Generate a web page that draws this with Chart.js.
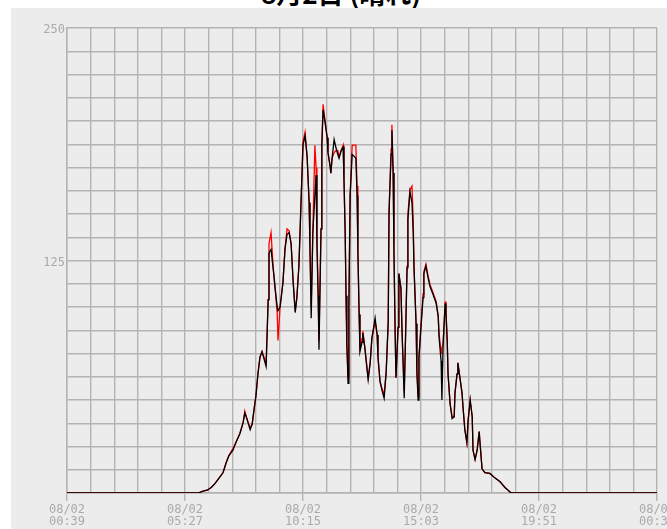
<!DOCTYPE html>
<html><head><meta charset="utf-8">
<script src="https://cdn.jsdelivr.net/npm/chart.js@4/dist/chart.umd.min.js"></script>
<style>
html,body{margin:0;padding:0;background:#fff;width:667px;height:529px;overflow:hidden;position:relative}
#title{position:absolute;left:11px;width:660px;top:-20px;text-align:center;font:bold 26px/26px "Noto Sans CJK JP";color:#000;white-space:nowrap}
#c{position:absolute;left:11px;top:8px;background:#ececec}
</style></head><body>
<div id="title">8月2日 (晴れ)</div>
<canvas id="c" width="656" height="521"></canvas>
<script>
const times = ["00:39","05:59","06:11","06:21","06:31","06:40","06:50","07:00","07:07","07:14","07:24","07:31","07:41","07:49","07:53","07:58","08:06","08:11","08:15","08:20","08:25","08:30","08:35","08:40","08:45","08:50","08:52","08:57","09:02","09:07","09:12","09:14","09:19","09:26","09:31","09:36","09:41","09:46","09:51","09:56","10:00","10:05","10:10","10:15","10:20","10:25","10:30","10:32","10:35","10:39","10:44","10:47","10:49","10:52","10:54","10:59","11:01","11:04","11:09","11:14","11:16","11:21","11:23","11:26","11:31","11:35","11:40","11:43","11:48","11:53","11:55","11:58","12:00","12:02","12:05","12:07","12:10","12:15","12:20","12:24","12:27","12:29","12:32","12:34","12:39","12:41","12:46","12:51","12:54","12:59","13:03","13:11","13:16","13:18","13:23","13:28","13:33","13:38","13:43","13:45","13:50","13:52","13:55","13:57","14:00","14:02","14:07","14:09","14:14","14:17","14:22","14:26","14:29","14:31","14:36","14:41","14:44","14:46","14:51","14:53","14:56","14:58","15:03","15:08","15:10","15:15","15:20","15:25","15:32","15:40","15:45","15:47","15:52","15:54","15:57","16:02","16:04","16:07","16:09","16:14","16:19","16:24","16:26","16:31","16:33","16:38","16:43","16:46","16:50","16:55","16:58","17:03","17:08","17:10","17:15","17:20","17:25","17:27","17:32","17:39","17:51","18:04","18:16","18:28","18:43","00:39"];
const black = [0,0,1,1.5,3,5,8,11,16,20,23,27,32,38,43,40,34,37,44,52,64,73,76,72,68,104,129,131,121,110,100,98,100,113,131,139,140,134,113,97,105,122,155,187,192,181,156,132,94,140,160,171,133,106,77,142,187,206,199,191,183,176,172,180,190,186,182,180,184,186,169,139,106,80,59,100,160,182,181,180,160,130,96,76,81,86,78,67,61,70,83,94,85,73,60,55,51,65,92,151,182,195,172,130,85,62,89,118,110,85,51,91,121,147,162,156,140,121,91,64,50,73,89,105,118,122,116,111,107,102,95,84,71,50,80,102,97,82,64,48,40,41,54,64,70,62,54,45,34,27,39,50,41,23,18,23,33,27,13,11,10.5,8,6,3,0,0];
const red = [0,0,1,1.5,3,5,8,11,16,20,24,27,32,38,44,40,35,37,44,52,64,73,76,73,70,104,134,140,122,110,97,82,100,113,131,142,141,134,114,98,105,122,155,189,194,181,156,132,100,140,187,175,140,106,82,142,187,209,200,191,183,176,172,180,183,184,184,181,184,187,169,139,106,80,62,100,160,187,187,187,165,130,96,78,83,87,78,68,62,70,83,92,85,73,60,56,53,65,92,151,185,198,172,130,85,62,89,118,110,85,55,91,122,150,163,165,147,121,91,67,52,73,91,107,119,123,117,112,108,103,95,86,75,78,80,103,97,82,64,48,41,41,54,64,70,62,54,45,34,27,39,50,41,23,18,23,33,27,13,11,10.5,8,6,3,0,0];
const tickDates = ["08/02","08/02","08/02","08/02","08/02","08/03"];
const tickTimes = ["00:39","05:27","10:15","15:03","19:51","00:39"];
const yLabels = [125, 250];

function toMinutes(list){
  let prev = -1; const out = [];
  for (const s of list){
    const [h,m] = s.split(':').map(Number);
    let v = h*60 + m - 39;
    if (v < 0) v += 1440;
    while (v <= prev) v += 1440;
    out.push(v); prev = v;
  }
  return out;
}
const xs = toMinutes(times);
const pts = arr => arr.map((v,i)=>({x:xs[i], y:v}));
const gridCol = '#b3b3b3';
const tickFont = {family:'DejaVu Sans Mono', size:12, lineHeight:1};

new Chart(document.getElementById('c'), {
  type:'line',
  data:{datasets:[
    {label:'black', data:pts(black), borderColor:'#000000', borderWidth:1.3, pointRadius:0, tension:0, order:0},
    {label:'red', data:pts(red), borderColor:'#ff0000', borderWidth:1.3, pointRadius:0, tension:0, order:1}
  ]},
  options:{
    responsive:false, animation:false, devicePixelRatio:1,
    layout:{padding:{top:20,right:10,left:0,bottom:0}},
    plugins:{legend:{display:false}, tooltip:{enabled:false}, title:{display:false}},
    scales:{
      x:{type:'linear', min:0, max:1440,
        afterBuildTicks: s => { s.ticks = Array.from({length:26},(_, i)=>({value:i*1440/25})); },
        afterFit: s => { s.paddingLeft = 0; s.paddingRight = 0; s.height = 36; },
        grid:{color:gridCol, lineWidth:1.4, tickLength:8, tickColor: c => (c.index % 5 === 0 ? gridCol : 'rgba(0,0,0,0)')},
        border:{color:gridCol, width:1.4},
        ticks:{autoSkip:false, maxRotation:0, minRotation:0, padding:3, color:'#aaaaaa', font:tickFont,
          callback:(v,i)=> (i % 5 === 0 ? [tickDates[i/5], tickTimes[i/5]] : '')}
      },
      y:{type:'linear', min:0, max:250,
        afterBuildTicks: s => { s.ticks = Array.from({length:21},(_, i)=>({value:i*12.5})); },
        afterFit: s => { s.width = 56; },
        grid:{color:gridCol, lineWidth:1.4, drawTicks:false},
        border:{color:gridCol, width:1.4},
        ticks:{padding:2, color:'#aaaaaa', font:tickFont, labelOffset:2,
          callback: v => (yLabels.includes(v) ? String(v) : '')}
      }
    }
  }
});
</script>
</body></html>
